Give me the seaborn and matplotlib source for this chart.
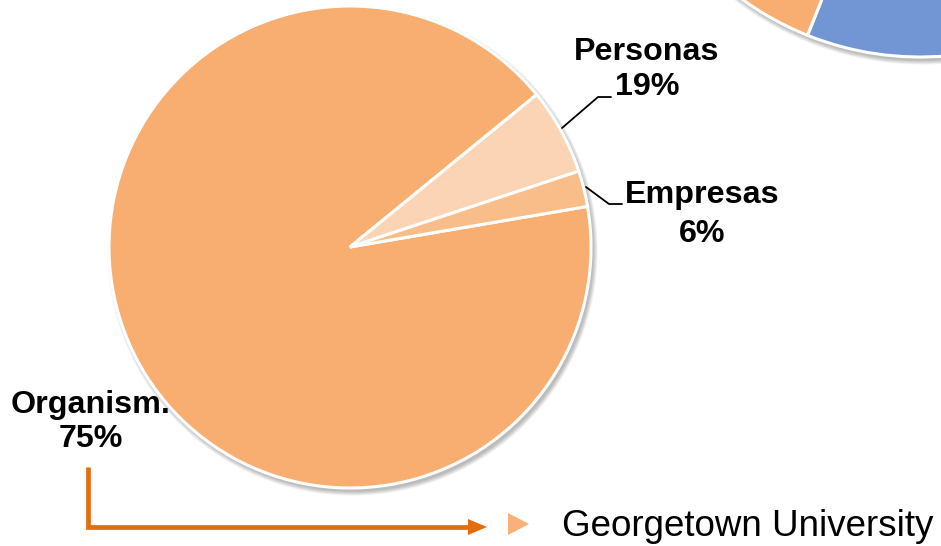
import numpy as np
import matplotlib
matplotlib.use("Agg")
import matplotlib.pyplot as plt
from matplotlib.patches import Circle, Polygon
import seaborn as sns

# ---- data ----
categories = ["Organism.", "Personas", "Empresas"]
slice_values = [91.8, 5.8, 2.4]          # visual slice sizes (% of circle)
label_pcts = ["75%", "19%", "6%"]          # printed percentages
slice_colors = ["#F8AE70", "#FAD4B4", "#F9BD8A"]

side_categories = ["Otros", "Organism."]   # partially visible second pie (top right)
side_values = [60, 40]
side_colors = ["#7196D3", "#F8AE70"]

footer_text = "Georgetown University"

sns.set_theme(style="white")
plt.rcParams["font.family"] = ["Liberation Sans", "DejaVu Sans"]

W, H = 941, 546
fig = plt.figure(figsize=(W / 100, H / 100), dpi=100)
ax = fig.add_axes([0, 0, 1, 1])


def Y(y):  # pixel row -> data y (up)
    return H - y


def shadow(ax, cx, cy, r):
    for i in range(8):
        ax.add_patch(Circle((cx + 2.5, cy - 3.5), r + 0.6 * i, color="#000000",
                            alpha=0.035, lw=0, zorder=0.5))


# second (cropped) pie at top right
c2 = (920, Y(-246))
r2 = 303
shadow(ax, *c2, r2)
ax.pie(side_values, colors=side_colors, startangle=248.2, counterclock=True,
       center=c2, radius=r2,
       wedgeprops=dict(edgecolor="white", linewidth=2.2), frame=True)

# main pie
c1 = (350, Y(247))
r1 = 241
shadow(ax, *c1, r1)
ax.pie(slice_values, colors=slice_colors, startangle=9.7, counterclock=False,
       center=c1, radius=r1,
       wedgeprops=dict(edgecolor="white", linewidth=2.2), frame=True)

# labels
lab_kw = dict(ha="center", va="baseline", fontsize=23.2, fontweight="bold",
              color="black", zorder=5)
label_pos = {"Personas": (647, 60, 95), "Empresas": (702, 203, 242),
             "Organism.": (91, 413, 447)}
for cat, pct in zip(categories, label_pcts):
    x, b1, b2 = label_pos[cat]
    ax.text(x, Y(b1), cat, **lab_kw)
    ax.text(x, Y(b2), pct, **lab_kw)

# leader lines
ax.plot([562, 598, 611], [Y(128), Y(97), Y(97)], color="black", lw=1.3, zorder=4)
ax.plot([586, 609, 622], [Y(187), Y(204), Y(204)], color="black", lw=1.3, zorder=4)

# orange elbow arrow
ax.plot([88, 88, 470], [Y(467), Y(527), Y(527)], color="#E46C0A", lw=3.4,
        solid_joinstyle="miter", solid_capstyle="butt", zorder=4)
ax.add_patch(Polygon([[468, Y(519)], [487, Y(527)], [468, Y(535)]],
                     closed=True, color="#E46C0A", lw=0, zorder=4))

# bullet + footer text
ax.add_patch(Polygon([[508, Y(513)], [529, Y(524)], [508, Y(535)]],
                     closed=True, color="#F9B07A", lw=0, zorder=4))
ax.text(562, Y(536), footer_text, ha="left", va="baseline", fontsize=26.5,
        color="black", zorder=5)

ax.set_xlim(0, W)
ax.set_ylim(0, H)
ax.set_aspect("auto")
ax.axis("off")
fig.savefig("out.png", dpi=100)
